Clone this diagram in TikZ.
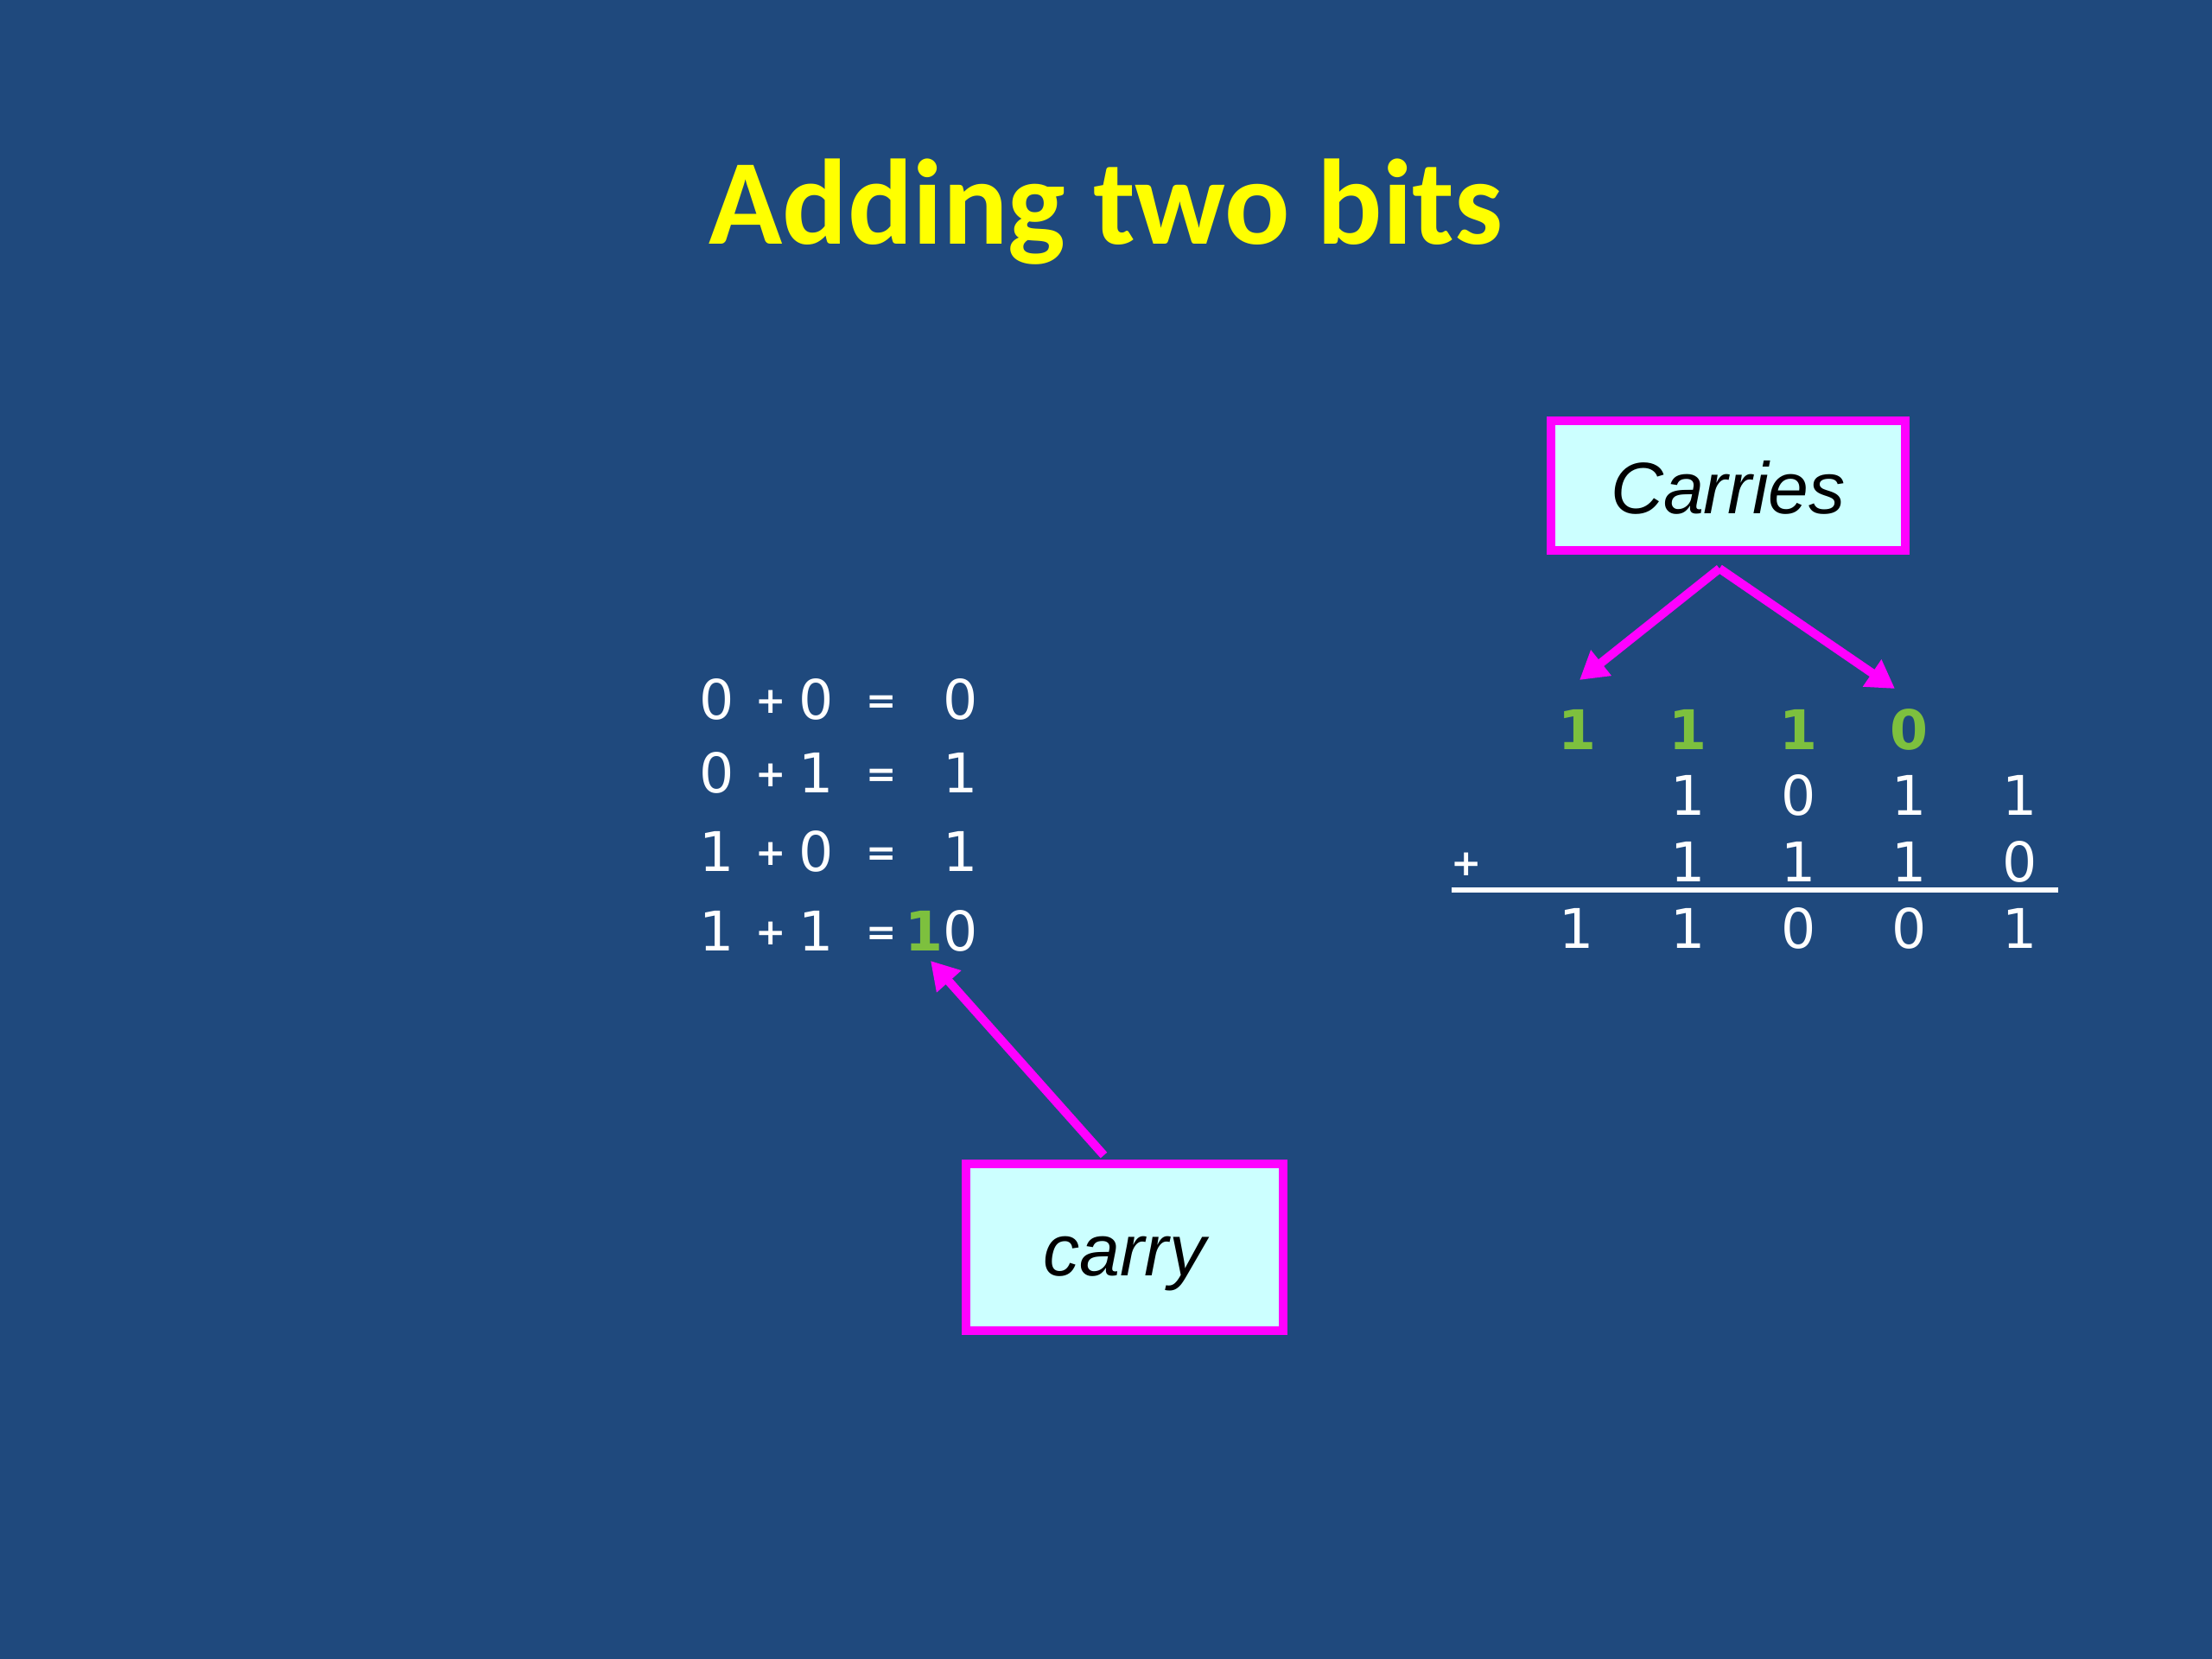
\documentclass[tikz,border=0pt]{standalone}
\usepackage{fontspec}
\usetikzlibrary{arrows.meta,positioning}
\newfontfamily\titlefont{Carlito}
\newfontfamily\digitfont{DejaVu Sans}
\newfontfamily\boxfont{Liberation Sans}
\definecolor{slideblue}{RGB}{31,73,125}
\definecolor{titleyellow}{RGB}{255,255,0}
\definecolor{carrygreen}{RGB}{125,192,62}
\definecolor{boxmagenta}{RGB}{255,0,255}
\definecolor{boxcyan}{RGB}{204,255,255}
\tikzset{
  titletext/.style={font=\titlefont\bfseries\fontsize{40}{48}\selectfont, text=titleyellow, anchor=base, inner sep=0pt},
  bit/.style={font=\digitfont\fontsize{18}{22}\selectfont, text=white, anchor=base, inner sep=0pt},
  opsign/.style={font=\digitfont\bfseries\fontsize{12}{14}\selectfont, text=white, anchor=base, inner sep=0pt, yshift=0.7mm},
  carrybit/.style={bit, font=\digitfont\bfseries\fontsize{18}{22}\selectfont, text=carrygreen},
  labelbox/.style={draw=boxmagenta, fill=boxcyan, line width=0.1cm, text=black,
    font=\boxfont\itshape\fontsize{24}{28}\selectfont, text height=0.86cm, text depth=0.2cm},
  pointer/.style={draw=boxmagenta, line width=0.1cm, -{Triangle[length=3.2mm, width=3.6mm]}},
  sumline/.style={draw=white, line width=0.06cm}
}
\newcommand{\SumRow}[5]{%
  % #1 row, #2 y, #3 first bit, #4 second bit, #5 result
  \node[bit] (a#1) at (8.30,#2) {#3};
  \node[opsign] (p#1) at (8.92,#2) {+};
  \node[bit] (b#1) at (9.45,#2) {#4};
  \node[opsign] (e#1) at (10.20,#2) {=};
  \node[bit, anchor=base east] (r#1) at (11.32,#2) {#5};
}
\def\colstep{1.282}

\begin{document}
\begin{tikzpicture}

  % background
  \fill[slideblue] (0,0) rectangle (25.6,-19.2);

  % title
  \node[titletext] (title) at (12.80,-2.83) {Adding two bits};

  % =======================
  % one bit sums
  % =======================
  \SumRow{1}{-8.32}{0}{0}{0}
  \SumRow{2}{-9.17}{0}{1}{1}
  \SumRow{3}{-10.08}{1}{0}{1}
  \SumRow{4}{-11.00}{1}{1}{\textcolor{carrygreen}{\bfseries 1}0}

  \node[labelbox, minimum width=3.67cm, minimum height=1.93cm] (carrybox) at (13.015,-14.435) {carry};
  \coordinate (carrytip) at (10.77,-11.12);
  \draw[pointer] ([xshift=-2.4mm,yshift=0.5mm]carrybox.north) -- (carrytip);

  % =======================
  % column addition
  % =======================
  \foreach \d [count=\i] in {1,1,1,0}
    \node[carrybit] (c\i) at ({18.25+\colstep*(\i-1)},-8.67) {\d};
  \foreach \d [count=\i from 2] in {1,0,1,1}
    \node[bit] (x\i) at ({18.25+\colstep*(\i-1)},-9.43) {\d};
  \foreach \d [count=\i from 2] in {1,1,1,0}
    \node[bit] (y\i) at ({18.25+\colstep*(\i-1)},-10.20) {\d};
  \foreach \d [count=\i] in {1,1,0,0,1}
    \node[bit] (s\i) at ({18.25+\colstep*(\i-1)},-10.97) {\d};
  \node[opsign] (plus) at (16.97,-10.20) {+};
  \draw[sumline] (16.80,-10.30) -- (23.82,-10.30);

  \node[labelbox, minimum width=4.10cm, minimum height=1.50cm] (carries) at (20.00,-5.62) {Carries};
  \coordinate (fork) at ([xshift=-1mm,yshift=-1.6mm]carries.south);
  \coordinate (tipL) at (18.28,-7.87);
  \coordinate (tipR) at (21.93,-7.97);
  \draw[pointer] (fork) -- (tipL);
  \draw[pointer] (fork) -- (tipR);

\end{tikzpicture}
\end{document}
